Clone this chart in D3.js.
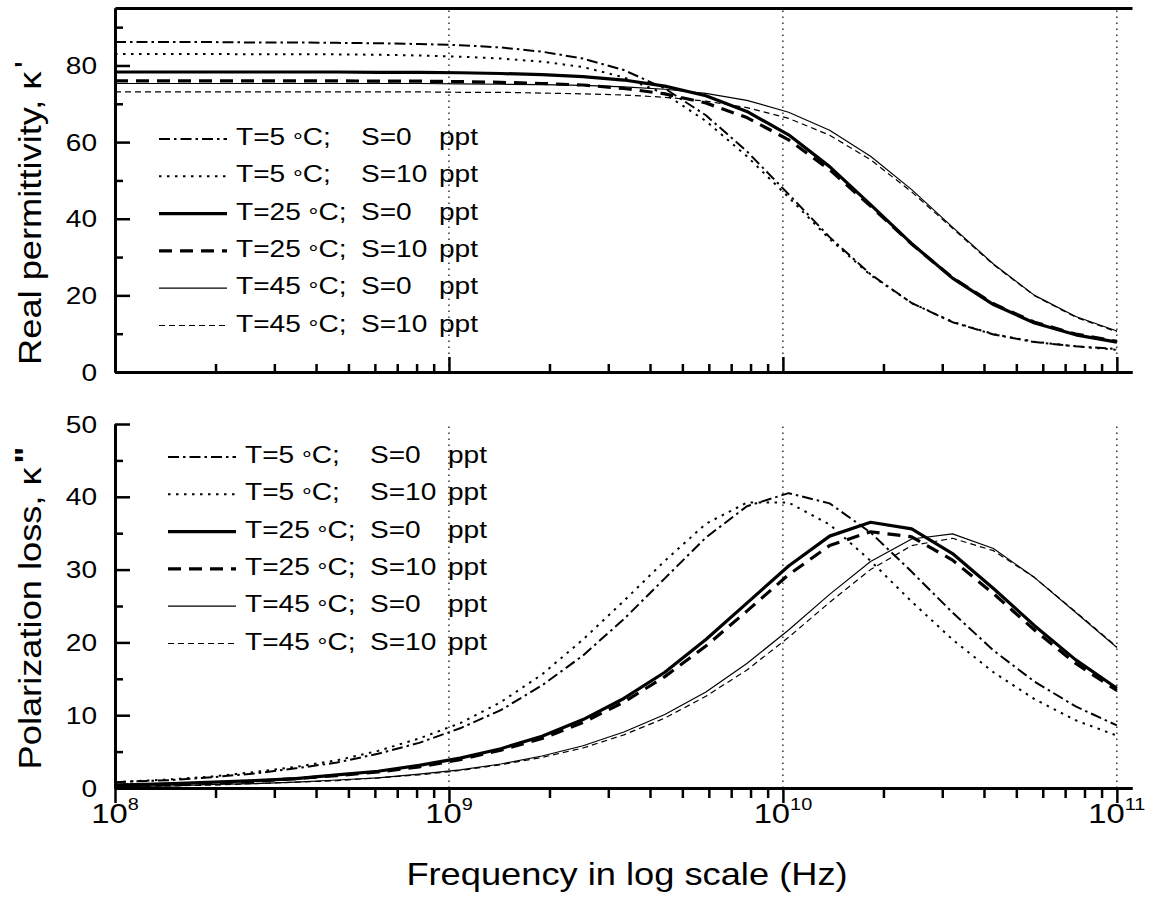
<!DOCTYPE html>
<html>
<head>
<meta charset="utf-8">
<script src="https://cdn.jsdelivr.net/npm/d3@7"></script>
<style>
  body { margin: 0; background: #fff; }
  text { font-family: "Liberation Sans", Arial, sans-serif; fill: #000; }
  .axis path, .axis line { stroke: #000; stroke-width: 2.5; }
  .axis path { stroke-width: 3; }
</style>
</head>
<body>
<div class="myViz"></div>
<script>
// frequency points (GHz)
var freqGHz = [0.1, 0.149, 0.198, 0.262, 0.348, 0.462, 0.613, 0.814, 1.08, 1.43, 1.90, 2.52, 3.34,
               4.43, 5.88, 7.80, 10.4, 13.8, 18.3, 24.3, 32.2, 42.7, 56.7, 75.3, 100];

// real permittivity k'
var realT5S0   = [86.1, 86.1, 86.1, 86.0, 86.0, 85.9, 85.8, 85.6, 85.3, 84.7, 83.6, 81.8, 78.8, 74.0, 67.0, 57.6, 46.4, 35.2, 25.5, 18.0, 13.0, 9.8, 7.8, 6.7, 6.0];
var realT5S10  = [83.0, 83.0, 83.0, 82.9, 82.9, 82.9, 82.8, 82.6, 82.3, 81.8, 81.0, 79.6, 76.9, 72.6, 65.5, 56.3, 45.6, 34.7, 25.3, 18.0, 13.1, 9.9, 7.9, 6.7, 5.8];
var realT25S0  = [78.3, 78.3, 78.3, 78.3, 78.3, 78.3, 78.2, 78.2, 78.1, 77.9, 77.6, 77.1, 76.2, 74.6, 72.1, 68.0, 61.9, 53.6, 43.7, 33.5, 24.5, 17.6, 12.8, 9.7, 7.8];
var realT25S10 = [76.0, 76.0, 76.0, 76.0, 76.0, 76.0, 75.9, 75.9, 75.8, 75.6, 75.3, 74.9, 74.0, 72.6, 70.2, 66.4, 60.6, 52.8, 43.3, 33.4, 24.6, 17.8, 13.0, 9.9, 8.0];
var realT45S0  = [75.3, 75.3, 75.3, 75.3, 75.3, 75.3, 75.3, 75.3, 75.2, 75.1, 75.0, 74.8, 74.4, 73.8, 72.7, 70.9, 67.8, 63.1, 56.3, 47.6, 37.8, 28.2, 20.0, 14.5, 10.7];
var realT45S10 = [73.1, 73.1, 73.1, 73.1, 73.1, 73.1, 73.1, 73.1, 73.0, 73.0, 72.8, 72.6, 72.3, 71.7, 70.7, 69.0, 66.2, 61.8, 55.4, 47.0, 37.5, 28.0, 19.9, 14.3, 10.5];

// polarization loss k''
var lossT5S0   = [0.8, 1.1, 1.5, 2.0, 2.7, 3.5, 4.7, 6.2, 8.2, 10.7, 14.1, 18.2, 23.2, 28.8, 34.4, 38.7, 40.5, 39.1, 35.1, 29.7, 24.1, 18.9, 14.6, 11.2, 8.6];
var lossT5S10  = [0.8, 1.2, 1.6, 2.2, 2.9, 3.8, 5.1, 6.8, 8.9, 11.8, 15.6, 20.4, 25.7, 31.2, 36.3, 39.2, 39.2, 36.2, 31.2, 25.6, 20.4, 15.9, 12.2, 9.3, 7.2];
var lossT25S0  = [0.4, 0.6, 0.8, 1.0, 1.3, 1.8, 2.3, 3.1, 4.1, 5.4, 7.1, 9.4, 12.3, 15.9, 20.4, 25.4, 30.5, 34.6, 36.5, 35.6, 32.2, 27.4, 22.3, 17.6, 13.7];
var lossT25S10 = [0.4, 0.5, 0.7, 0.9, 1.3, 1.7, 2.2, 2.9, 3.9, 5.2, 6.8, 9.0, 11.8, 15.3, 19.5, 24.3, 29.3, 33.3, 35.2, 34.5, 31.3, 26.7, 21.7, 17.1, 13.4];
var lossT45S0  = [0.2, 0.3, 0.5, 0.6, 0.8, 1.1, 1.4, 1.9, 2.5, 3.3, 4.4, 5.8, 7.7, 10.1, 13.2, 17.1, 21.7, 26.6, 31.1, 34.2, 34.9, 32.9, 28.9, 24.1, 19.3];
var lossT45S10 = [0.2, 0.3, 0.4, 0.6, 0.8, 1.0, 1.4, 1.8, 2.4, 3.2, 4.2, 5.5, 7.3, 9.6, 12.6, 16.2, 20.7, 25.5, 30.0, 33.3, 34.3, 32.6, 28.9, 24.2, 19.4];

// legend text
var legendTemp = ["5", "5", "25", "25", "45", "45"];
var legendSal  = ["0", "10", "0", "10", "0", "10"];

// tick values
var realTicks  = [0, 20, 40, 60, 80];
var realMinor  = [10, 30, 50, 70, 90];
var lossTicks  = [0, 10, 20, 30, 40, 50];
var lossMinor  = [5, 15, 25, 35, 45];
var decadeExp  = [8, 9, 10, 11];

// line styles, one per series (same order as the legend)
var lineStyle = [
  {w: 2,   dash: "11,4,2.5,4"},
  {w: 2,   dash: "2.5,5.5"},
  {w: 3.2, dash: null},
  {w: 3.2, dash: "13,8"},
  {w: 1.2, dash: null},
  {w: 1.2, dash: "6,4"}
];

var sx = 1.17; // glyphs in the original are wider than Arial

var svg = d3.select(".myViz").append("svg")
  .attr("width", 1149)
  .attr("height", 901);

var x = d3.scaleLog().domain([1e8, 1.11e11]).range([115, 1132]);

var majorX = decadeExp.map(e => Math.pow(10, e));
var minorX = [];
[1e8, 1e9, 1e10].forEach(d => { for (var k = 2; k < 10; k++) minorX.push(k * d); });

function addText(g, px, py, size, anchor, rot) {
  return g.append("text")
    .attr("transform", "translate(" + px + "," + py + ")" + (rot ? " rotate(-90)" : "") + " scale(" + sx + ",1)")
    .attr("text-anchor", anchor)
    .style("font-size", size + "px");
}

var panels = [
  {y: d3.scaleLinear().domain([0, 95]).range([372, 8]), series: [realT5S0, realT5S10, realT25S0, realT25S10, realT45S0, realT45S10],
   ticks: realTicks, minor: realMinor, xInside: true, frameTop: true, legendX: 159, legendY: 139},
  {y: d3.scaleLinear().domain([0, 50]).range([788, 424]), series: [lossT5S0, lossT5S10, lossT25S0, lossT25S10, lossT45S0, lossT45S10],
   ticks: lossTicks, minor: lossMinor, xInside: false, frameTop: false, legendX: 168, legendY: 457}
];

panels.forEach(function(p, pi) {
  var g = svg.append("g");
  var y = p.y;
  var y0 = y.range()[0], y1 = y.range()[1];

  // dotted decade gridlines
  g.selectAll(".grid")
    .data(majorX.slice(1))
    .enter().append("line")
      .attr("x1", d => x(d)).attr("x2", d => x(d))
      .attr("y1", y0).attr("y2", y1)
      .style("stroke", "#000").style("stroke-width", 1.2)
      .style("stroke-dasharray", "1.5,4.5");

  // curves
  p.series.forEach(function(vals, i) {
    var pts = freqGHz.map((f, k) => ({f: f * 1e9, v: vals[k]}));
    g.append("path")
      .datum(pts)
      .attr("d", d3.line().x(d => x(d.f)).y(d => y(d.v)))
      .style("fill", "none")
      .style("stroke", "#000")
      .style("stroke-width", lineStyle[i].w)
      .style("stroke-dasharray", lineStyle[i].dash)
      .style("stroke-linejoin", "round");
  });

  // x axis
  var tIn = p.xInside ? -1 : 1;
  g.append("g").attr("class", "axis")
    .attr("transform", "translate(0," + y0 + ")")
    .call(d3.axisBottom(x).tickValues(minorX).tickSize(tIn * (p.xInside ? 8 : 10)).tickFormat("").tickSizeOuter(0));
  g.append("g").attr("class", "axis")
    .attr("transform", "translate(0," + y0 + ")")
    .call(d3.axisBottom(x).tickValues(majorX).tickSize(tIn * 15).tickFormat("").tickSizeOuter(0));

  if (p.frameTop) {
    g.append("g").attr("class", "axis")
      .attr("transform", "translate(0," + y1 + ")")
      .call(d3.axisTop(x).tickValues([]).tickSizeOuter(0));
  }

  // y axis
  g.append("g").attr("class", "axis")
    .attr("transform", "translate(115,0)")
    .call(d3.axisLeft(y).tickValues(p.minor).tickSize(-8).tickFormat("").tickSizeOuter(0));
  g.append("g").attr("class", "axis")
    .attr("transform", "translate(115,0)")
    .call(d3.axisLeft(y).tickValues(p.ticks).tickSize(-15).tickFormat("").tickSizeOuter(0));

  p.ticks.forEach(function(t) {
    addText(g, 97, y(t) + 8.5, 24, "end").text(t);
  });

  // legend
  legendTemp.forEach(function(tmp, i) {
    var ly = p.legendY + i * 37.3;
    g.append("line")
      .attr("x1", p.legendX).attr("x2", p.legendX + 68)
      .attr("y1", ly).attr("y2", ly)
      .style("stroke", "#000")
      .style("stroke-width", lineStyle[i].w)
      .style("stroke-dasharray", lineStyle[i].dash);
    var t = addText(g, p.legendX + 77, ly + 6, 24, "start");
    t.append("tspan").text("T=" + tmp + " ");
    t.append("tspan").attr("dy", 3).style("font-size", "21px").text("\u00B0");
    t.append("tspan").attr("dy", -3).text("C;");
    addText(g, p.legendX + 202, ly + 6, 24, "start").text("S=" + legendSal[i]);
    addText(g, p.legendX + 280, ly + 6, 24, "start").text("ppt");
  });
});

// bottom x tick labels with exponents
decadeExp.forEach(function(e) {
  var t = addText(svg, x(Math.pow(10, e)), 823, 28, "middle");
  t.append("tspan").text("10");
  t.append("tspan").attr("dy", -13).style("font-size", "17px").text(e);
});

// axis titles
addText(svg, 627, 885, 31, "middle").text("Frequency in log scale (Hz)");

var yt1 = addText(svg, 41, 213, 31, "middle", true);
yt1.append("tspan").text("Real permittivity, \u03BA");
yt1.append("tspan").attr("dx", 3).attr("dy", -4).text("'");

var yt2 = addText(svg, 41, 608, 31, "middle", true);
yt2.append("tspan").text("Polarization loss, \u03BA");
yt2.append("tspan").attr("dx", 3).attr("dy", -4).style("font-weight", "bold").text("\"");
</script>
</body>
</html>
